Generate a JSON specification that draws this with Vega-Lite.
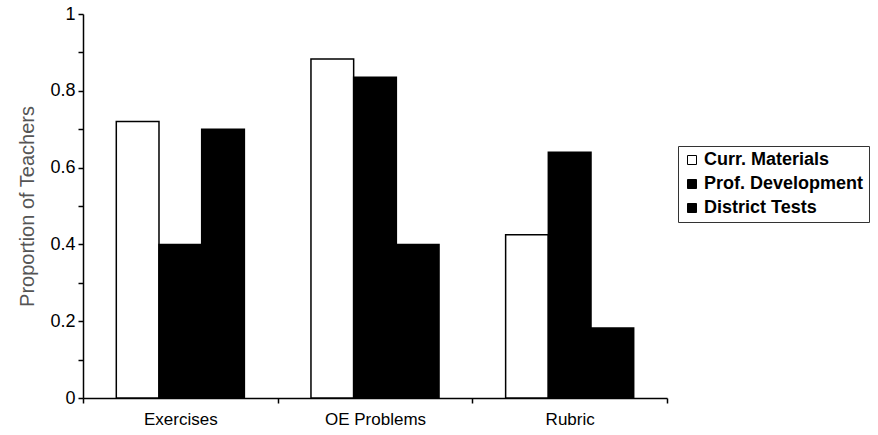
{
  "$schema": "https://vega.github.io/schema/vega-lite/v6.json",
  "width": 584,
  "height": 384,
  "autosize": "none",
  "padding": {"left": 83, "top": 14, "right": 211, "bottom": 37},
  "background": "white",
  "config": {
    "view": {"stroke": null},
    "font": "Liberation Sans",
    "axis": {"labelFont": "Liberation Sans", "titleFont": "Liberation Sans", "grid": false, "domainColor": "black", "domainWidth": 1.5, "tickColor": "black", "tickWidth": 1.5, "labelColor": "black"}
  },
  "data": {
    "values": [
      {"category": "Exercises", "source": "Curr. Materials", "value": 0.72},
      {"category": "Exercises", "source": "Prof. Development", "value": 0.40},
      {"category": "Exercises", "source": "District Tests", "value": 0.70},
      {"category": "OE Problems", "source": "Curr. Materials", "value": 0.883},
      {"category": "OE Problems", "source": "Prof. Development", "value": 0.835},
      {"category": "OE Problems", "source": "District Tests", "value": 0.40},
      {"category": "Rubric", "source": "Curr. Materials", "value": 0.425},
      {"category": "Rubric", "source": "Prof. Development", "value": 0.64},
      {"category": "Rubric", "source": "District Tests", "value": 0.182}
    ]
  },
  "mark": {"type": "bar", "stroke": "black", "strokeWidth": 1.5},
  "encoding": {
    "x": {
      "field": "category",
      "type": "nominal",
      "sort": ["Exercises", "OE Problems", "Rubric"],
      "scale": {"paddingInner": 0, "paddingOuter": 0},
      "axis": {"title": null, "labelAngle": 0, "labelFontSize": 17, "tickBand": "extent", "tickSize": 5, "labelPadding": 8}
    },
    "xOffset": {
      "field": "source",
      "type": "nominal",
      "sort": ["Curr. Materials", "Prof. Development", "District Tests"],
      "scale": {"paddingInner": 0, "paddingOuter": 0.78}
    },
    "y": {
      "field": "value",
      "type": "quantitative",
      "scale": {"domain": [0, 1], "nice": false, "zero": true},
      "axis": {
        "title": "Proportion of Teachers",
        "titleFontSize": 20,
        "titleFontWeight": "normal",
        "titleColor": "#555555",
        "titlePadding": 12,
        "values": [0, 0.1, 0.2, 0.3, 0.4, 0.5, 0.6, 0.7, 0.8, 0.9, 1],
        "labelExpr": "round(datum.value*10) % 2 == 0 ? toString(round(datum.value*10)/10) : ''",
        "labelFontSize": 18,
        "tickSize": 5,
        "labelPadding": 3
      }
    },
    "fill": {
      "field": "source",
      "type": "nominal",
      "sort": ["Curr. Materials", "Prof. Development", "District Tests"],
      "scale": {"domain": ["Curr. Materials", "Prof. Development", "District Tests"], "range": ["white", "black", "black"]},
      "legend": {
        "title": null,
        "orient": "none",
        "legendX": 595,
        "legendY": 132,
        "strokeColor": "#333333",
        "padding": 5,
        "cornerRadius": 0,
        "symbolType": "square",
        "symbolSize": 81,
        "symbolStrokeColor": "black",
        "symbolStrokeWidth": 1,
        "labelFont": "Liberation Sans",
        "labelFontSize": 18,
        "labelFontWeight": "bold",
        "labelColor": "black",
        "labelOffset": 3,
        "rowPadding": 6,
        "labelLimit": 300
      }
    }
  }
}
